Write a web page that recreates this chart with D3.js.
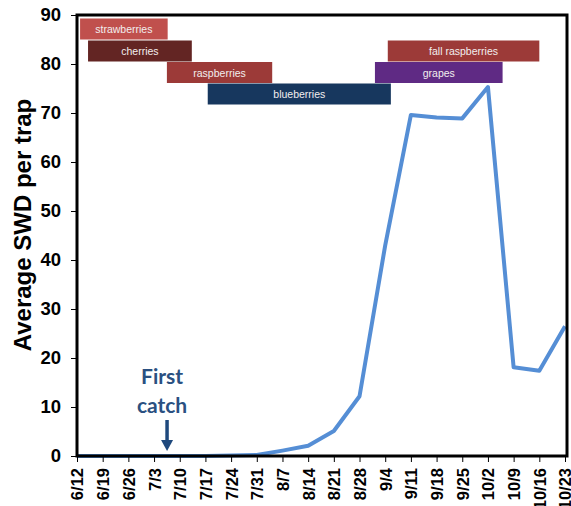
<!DOCTYPE html>
<html><head><meta charset="utf-8">
<script src="https://cdn.jsdelivr.net/npm/d3@7/dist/d3.min.js"></script>
<style>body{margin:0;background:#fff}svg{display:block}</style>
</head><body>
<svg id="c" width="571" height="506"></svg>
<script>
// ---- data ----
const dates = ["6/12","6/19","6/26","7/3","7/10","7/17","7/24","7/31","8/7","8/14","8/21","8/28","9/4","9/11","9/18","9/25","10/2","10/9","10/16","10/23"];
const swd = [0,0,0,0,0,0,0.1,0.2,1.1,2.1,5.1,12.2,43,69.6,69.1,68.9,75.3,18.1,17.4,26.5];
const yTicks = [0,10,20,30,40,50,60,70,80,90];
// crop seasons: start / end measured in week-index units along the date axis
const cropNames = ["strawberries","cherries","raspberries","blueberries","fall raspberries","grapes"];
const cropStart = [0.12, 0.43, 3.5, 5.09, 12.1, 11.6];
const cropEnd   = [3.53, 4.47, 7.6, 12.22, 18.0, 16.57];
const cropRow   = [0, 1, 2, 3, 1, 2];
const cropColor = ["#c0504d","#632523","#9c3a38","#17375e","#9c3a38","#5f2a84"];

const svg = d3.select("#c");
const L = 77, R = 565, T = 15, B = 456;
const x = d3.scalePoint().domain(dates).range([L, R]);
const xi = d3.scaleLinear().domain([0, dates.length - 1]).range([L, R]);
const y = d3.scaleLinear().domain([0, 90]).range([B, T]);

// crop bars
const rowH = 21.5, rowTop = 18.5;
const g = svg.append("g");
cropNames.forEach((n, i) => {
  const x0 = xi(cropStart[i]), x1 = xi(cropEnd[i]);
  const yy = rowTop + cropRow[i] * rowH + (cropRow[i] > 0 ? 0.5 : 0);
  g.append("rect").attr("x", x0).attr("y", yy).attr("width", x1 - x0).attr("height", rowH - 0.5)
    .attr("fill", cropColor[i]);
  g.append("text").attr("x", (x0 + x1) / 2).attr("y", yy + rowH / 2 + 3.8)
    .attr("text-anchor", "middle").attr("font-family", "Liberation Sans, Arial, sans-serif")
    .attr("font-size", 10.5).attr("fill", "#f2eeee").text(n);
});

// line
svg.append("path").datum(swd)
  .attr("fill", "none").attr("stroke", "#558ed5").attr("stroke-width", 4).attr("stroke-linejoin", "round")
  .attr("d", d3.line().x((d, i) => x(dates[i])).y(d => y(d)));

// frame
svg.append("rect").attr("x", L).attr("y", T).attr("width", 567 - L).attr("height", B - T)
  .attr("fill", "none").attr("stroke", "#000").attr("stroke-width", 3);

// y axis
const ya = svg.append("g").attr("transform", `translate(${L},0)`)
  .call(d3.axisLeft(y).tickValues(yTicks).tickSize(6).tickPadding(10).tickFormat(d3.format("d")));
ya.select(".domain").remove();
ya.selectAll("line").attr("stroke", "#000").attr("stroke-width", 1);
ya.selectAll("text").attr("font-family", "Liberation Sans, Arial, sans-serif").attr("font-weight", "bold")
  .attr("font-size", 18.5).attr("fill", "#000");

// x axis
const xa = svg.append("g").attr("transform", `translate(0,${B})`)
  .call(d3.axisBottom(x).tickSize(6).tickPadding(0));
xa.select(".domain").remove();
xa.selectAll("line").attr("stroke", "#000").attr("stroke-width", 1);
xa.selectAll("text").attr("font-family", "Liberation Sans, Arial, sans-serif").attr("font-weight", "bold")
  .attr("font-size", 16.5).attr("fill", "#000")
  .attr("transform", "translate(0,12) rotate(-90)").attr("text-anchor", "end").attr("dy", "0.36em").attr("y", 0).attr("x", 0);

// y title
svg.append("text").attr("transform", "translate(31,225) rotate(-90)").attr("text-anchor", "middle")
  .attr("font-family", "Liberation Sans, Arial, sans-serif").attr("font-weight", "bold").attr("font-size", 24)
  .attr("fill", "#000").text("Average SWD per trap");

// annotation
const ax = x("7/3") + 13;
const ann = svg.append("g").attr("font-family", "Lato, Open Sans, sans-serif").attr("font-weight", "bold")
  .attr("font-size", 21).attr("fill", "#2a5081").attr("text-anchor", "middle");
ann.append("text").attr("x", ax - 5).attr("y", 384).text("First");
ann.append("text").attr("x", ax - 5).attr("y", 413).text("catch");
svg.append("line").attr("x1", ax).attr("x2", ax).attr("y1", 420).attr("y2", 441)
  .attr("stroke", "#1f497d").attr("stroke-width", 3.5);
svg.append("path").attr("d", `M${ax - 6},440 L${ax + 6},440 L${ax},451 Z`).attr("fill", "#1f497d");
</script>
</body></html>
